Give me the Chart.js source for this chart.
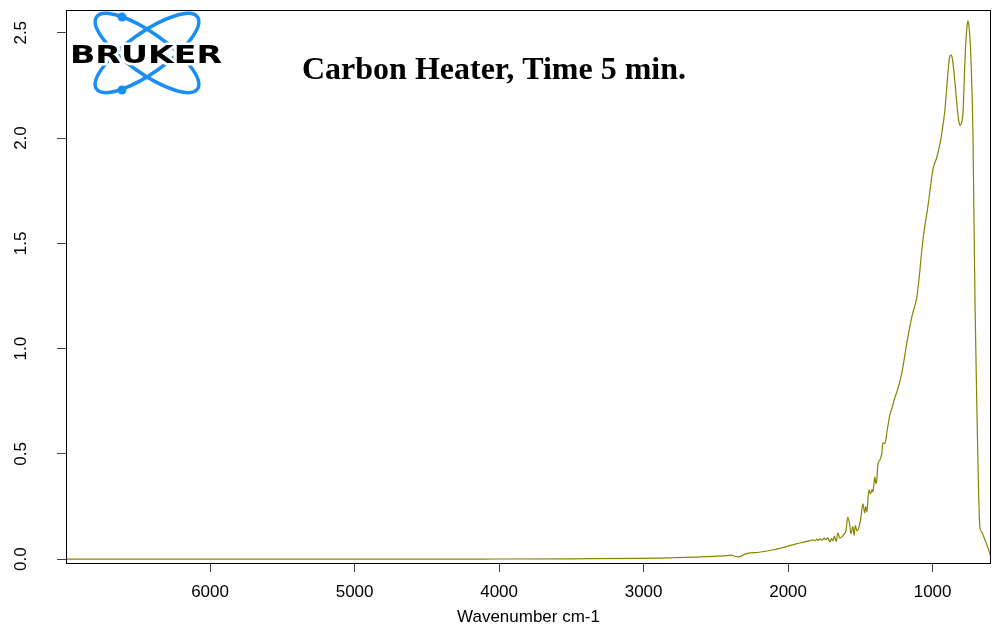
<!DOCTYPE html>
<html>
<head>
<meta charset="utf-8">
<script src="https://cdn.jsdelivr.net/npm/chart.js@4/dist/chart.umd.min.js"></script>
<style>
  html, body { margin: 0; padding: 0; background: #ffffff; }
  #spectrum { display: block; }
</style>
</head>
<body>
<canvas id="spectrum" width="997" height="635"></canvas>
<script>
// wavenumber (cm-1)
var wavenumbers = [6997, 6000, 5000, 4000, 3500, 3000, 2800, 2600, 2450, 2390, 2370, 2345, 2320, 2300, 2200, 2100, 2057, 2000, 1950, 1900,
  1860, 1840, 1828, 1815, 1800, 1790, 1778, 1765, 1750, 1740, 1725, 1711, 1700, 1690, 1680, 1668, 1655, 1642, 1628, 1615,
  1600, 1587, 1575, 1565, 1552, 1543, 1535, 1524, 1510, 1498, 1482, 1470, 1462, 1455, 1441, 1430, 1420, 1413, 1400, 1393,
  1386, 1379, 1365, 1352, 1344, 1330, 1316, 1296, 1280, 1262, 1240, 1213, 1178, 1144, 1109, 1095, 1067, 1033, 998, 970,
  950, 936, 915, 900, 890, 882, 873, 866, 858, 845, 832, 820, 814, 809, 803, 796, 790, 776, 766, 760,
  756, 751, 744, 735, 721, 707, 693, 683, 673, 660, 648, 638, 620, 597];

var absorbance = [0.0, 0.0, 0.0, 0.001, 0.002, 0.004, 0.007, 0.011, 0.016, 0.019, 0.014, 0.011, 0.016, 0.024, 0.033, 0.045, 0.052, 0.062, 0.072, 0.08,
  0.086, 0.09, 0.092, 0.087, 0.095, 0.089, 0.097, 0.09, 0.1, 0.093, 0.101, 0.082, 0.098, 0.088, 0.11, 0.085, 0.125, 0.1, 0.106, 0.118,
  0.135, 0.2, 0.17, 0.12, 0.155, 0.113, 0.16, 0.135, 0.15, 0.19, 0.263, 0.22, 0.25, 0.225, 0.329, 0.31, 0.33, 0.32, 0.391, 0.36,
  0.377, 0.448, 0.471, 0.5, 0.552, 0.55, 0.604, 0.685, 0.72, 0.766, 0.81, 0.885, 1.028, 1.151, 1.246, 1.326, 1.516, 1.673, 1.849, 1.911,
  1.97, 2.025, 2.134, 2.26, 2.34, 2.385, 2.395, 2.385, 2.35, 2.26, 2.16, 2.085, 2.065, 2.06, 2.065, 2.085, 2.12, 2.37, 2.5, 2.54,
  2.556, 2.545, 2.5, 2.38, 2.025, 1.232, 0.695, 0.35, 0.153, 0.13, 0.11, 0.092, 0.06, 0.011];

var xTicks = [6000, 5000, 4000, 3000, 2000, 1000];
var yTicks = [0, 0.5, 1.0, 1.5, 2.0, 2.5];
var yTickLabels = ["0.0", "0.5", "1.0", "1.5", "2.0", "2.5"];

var chartTitle = "Carbon Heater, Time 5 min.";
var xTitle = "Wavenumber cm-1";

var points = wavenumbers.map(function (w, i) { return { x: w, y: absorbance[i] }; });

// box, rotated y labels, title and logo
var extras = {
  id: 'extras',
  afterDraw: function (chart) {
    var ctx = chart.ctx;
    var a = chart.chartArea;
    var yScale = chart.scales.y;

    ctx.save();
    ctx.strokeStyle = '#000000';
    ctx.lineWidth = 1;
    ctx.strokeRect(a.left + 0.5, a.top + 0.5, a.right - a.left - 1, a.bottom - a.top);

    ctx.fillStyle = '#000000';
    ctx.font = '17px "Liberation Sans", Arial, sans-serif';
    ctx.textAlign = 'center';
    ctx.textBaseline = 'alphabetic';
    yTicks.forEach(function (v, i) {
      var py = yScale.getPixelForValue(v);
      ctx.save();
      ctx.translate(26, py);
      ctx.rotate(-Math.PI / 2);
      ctx.fillText(yTickLabels[i], 0, 0);
      ctx.restore();
    });

    ctx.font = 'bold 32px "Liberation Serif", "Times New Roman", serif';
    ctx.fillText(chartTitle, 494, 79);

    // Bruker logo
    var blue = '#1a8ef5';
    ctx.strokeStyle = blue;
    ctx.lineWidth = 3.5;
    ctx.beginPath();
    ctx.ellipse(147, 53, 62, 20, 0.62, 0, Math.PI * 2);
    ctx.stroke();
    ctx.beginPath();
    ctx.ellipse(147, 53, 62, 20, -0.62, 0, Math.PI * 2);
    ctx.stroke();
    ctx.fillStyle = blue;
    ctx.beginPath();
    ctx.arc(122, 17, 4.5, 0, Math.PI * 2);
    ctx.fill();
    ctx.beginPath();
    ctx.arc(122, 90, 4.5, 0, Math.PI * 2);
    ctx.fill();

    ctx.font = 'bold 25px "DejaVu Sans", sans-serif';
    ctx.textAlign = 'left';
    var w = ctx.measureText('BRUKER').width;
    ctx.save();
    ctx.translate(70, 63);
    ctx.scale(152 / w, 1);
    ctx.lineWidth = 5;
    ctx.strokeStyle = '#ffffff';
    ctx.lineJoin = 'round';
    ctx.strokeText('BRUKER', 0, 0);
    ctx.fillStyle = '#000000';
    ctx.fillText('BRUKER', 0, 0);
    ctx.restore();
    ctx.restore();
  }
};

var spectrumChart = new Chart(document.getElementById("spectrum"), {
  type: 'line',
  data: {
    datasets: [{
      label: "Absorbance",
      data: points,
      borderColor: '#858500',
      borderWidth: 1.2,
      pointRadius: 0,
      cubicInterpolationMode: 'monotone',
      fill: false
    }]
  },
  options: {
    responsive: false,
    animation: false,
    devicePixelRatio: 1,
    layout: { padding: { top: 10, right: 6, left: 0, bottom: 0 } },
    plugins: {
      legend: { display: false },
      tooltip: { enabled: false }
    },
    scales: {
      x: {
        type: 'linear',
        reverse: true,
        min: 596,
        max: 6997,
        afterBuildTicks: function (scale) {
          scale.ticks = xTicks.map(function (v) { return { value: v }; });
        },
        afterFit: function (scale) { scale.height = 72; },
        border: { display: false },
        grid: { drawOnChartArea: false, drawTicks: true, tickLength: 9, color: '#444444' },
        ticks: {
          color: '#000000',
          padding: 10,
          maxRotation: 0,
          font: { family: '"Liberation Sans", Arial, sans-serif', size: 17 },
          callback: function (v) { return String(v); }
        },
        title: {
          display: true,
          text: xTitle,
          color: '#000000',
          padding: { top: 0, bottom: 7 },
          font: { family: '"Liberation Sans", Arial, sans-serif', size: 17 }
        }
      },
      y: {
        type: 'linear',
        min: -0.018,
        max: 2.608,
        afterBuildTicks: function (scale) {
          scale.ticks = yTicks.map(function (v) { return { value: v }; });
        },
        afterFit: function (scale) { scale.width = 66; },
        border: { display: false },
        grid: { drawOnChartArea: false, drawTicks: true, tickLength: 9, color: '#444444' },
        ticks: { display: false }
      }
    }
  },
  plugins: [extras]
});
</script>
</body>
</html>
